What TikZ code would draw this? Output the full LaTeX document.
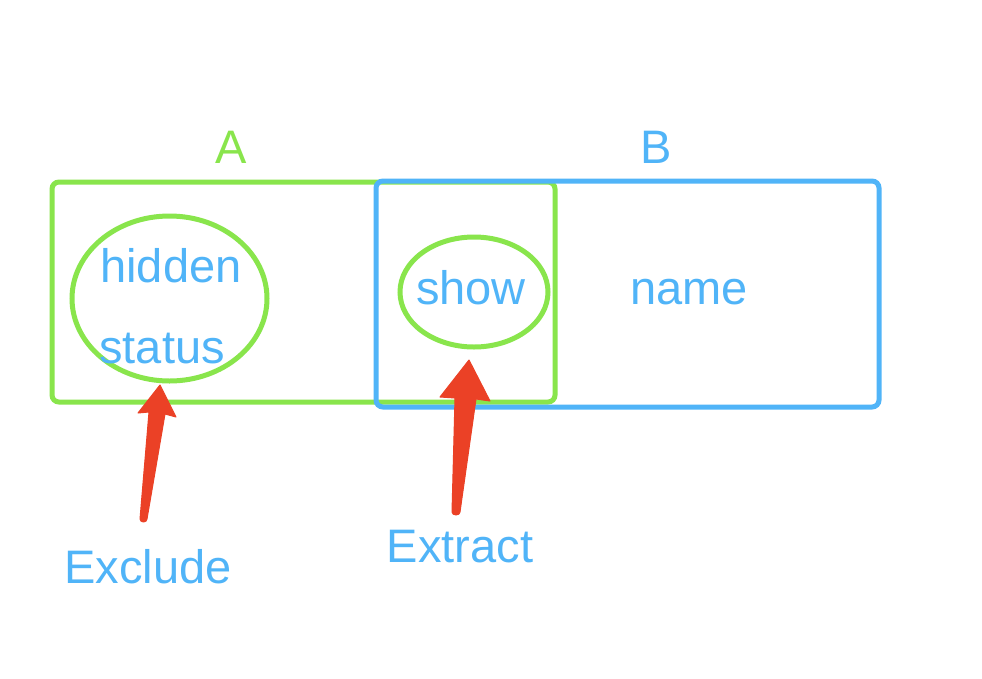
\documentclass[tikz,border=0pt]{standalone}
\usepackage{fontspec}
\setmainfont{Liberation Sans}
\definecolor{cgreen}{RGB}{137,229,76}
\definecolor{cblue}{RGB}{80,180,248}
\definecolor{cred}{RGB}{235,65,38}
\begin{document}
\begin{tikzpicture}[x=1pt,y=-1pt,
  lbl/.style={font=\fontsize{47}{54}\selectfont,inner sep=0pt},
  gbox/.style={draw=cgreen,line width=5pt,rounded corners=7pt},
  bbox/.style={draw=cblue,line width=5pt,rounded corners=7pt},
  redarrow/.style={fill=cred,draw=cred,line width=1pt,line join=round}]
\useasboundingbox[fill=white] (0,0) rectangle (982,678);
% boxes
\draw[gbox] (52,182) rectangle (555,402);
\draw[bbox] (376,181) rectangle (879,407);
% ellipses
\draw[cgreen,line width=5pt] (169.5,298.5) ellipse [x radius=97.5, y radius=82.5];
\draw[cgreen,line width=5pt] (474,292) ellipse [x radius=74, y radius=55];
% labels
\node[lbl,text=cgreen] (A) at (231,147) {A};
\node[lbl,text=cblue] (B) at (656,147) {B};
\node[lbl,text=cblue] (hidden) at (171,266) {hidden};
\node[lbl,text=cblue] (status) at (162,349) {status};
\node[lbl,text=cblue] (show) at (471,288) {show};
\node[lbl,text=cblue] (name) at (689,292) {name};
\node[lbl,text=cblue] (exclude) at (148,567) {Exclude};
\node[lbl,text=cblue] (extract) at (460,547) {Extract};
% arrows (tapered)
\filldraw[redarrow] (140,519) -- (149,412) -- (138,413) -- (160,385) -- (176,417) -- (165,414) -- (147,519) arc[start angle=0,end angle=180,x radius=3.5,y radius=3] -- cycle;
\filldraw[redarrow] (452,512) -- (455,398) -- (440,397) -- (469,360) -- (490,401) -- (476,399) -- (460,512) arc[start angle=0,end angle=180,x radius=4,y radius=3] -- cycle;
\end{tikzpicture}
\end{document}
